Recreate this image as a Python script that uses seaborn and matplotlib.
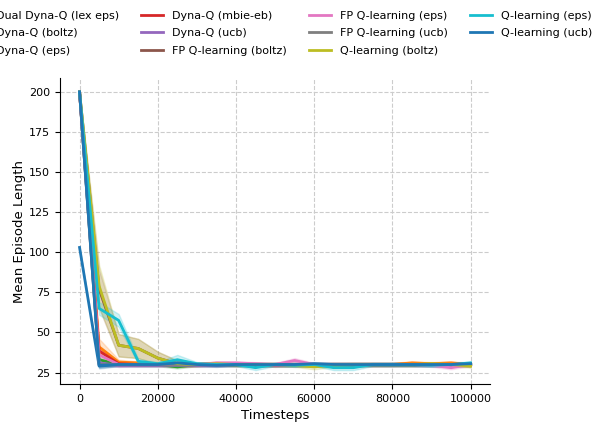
import numpy as np
import pandas as pd
import matplotlib
matplotlib.use("Agg")
import matplotlib.pyplot as plt
import seaborn as sns

timesteps = list(range(0, 100001, 5000))

labels = ["Dual Dyna-Q (lex eps)", "Dyna-Q (boltz)", "Dyna-Q (eps)", "Dyna-Q (mbie-eb)",
          "Dyna-Q (ucb)", "FP Q-learning (boltz)", "FP Q-learning (eps)", "FP Q-learning (ucb)",
          "Q-learning (boltz)", "Q-learning (eps)", "Q-learning (ucb)"]

# mean episode length per series
dual_lex_eps = [103, 29, 30, 30, 30, 30, 30, 30, 30, 29.5, 30, 30, 30, 30, 30, 30, 30, 30, 30, 30, 30]
dyna_boltz = [200, 41, 31.5, 31, 30.5, 30, 30, 30.5, 30, 30, 29.5, 30, 29.5, 30, 30, 30, 30, 31, 30.5, 31, 30]
dyna_eps = [200, 33, 30, 30, 30, 28.5, 30, 30, 30, 30, 30, 30, 30, 30, 30, 30, 30, 30, 30, 30, 30]
dyna_mbie = [200, 38.5, 30.5, 30, 30, 30, 30, 30, 30, 30, 30, 30, 30, 30, 30, 30, 30, 30, 30, 30, 30.5]
dyna_ucb = [200, 31, 29.5, 29.5, 29.5, 29.5, 29.5, 29.5, 30, 30, 29.5, 29.5, 30, 30, 30, 30, 30, 30, 30, 30, 30]
fp_boltz = [200, 77, 42, 40, 34, 30.5, 30, 30.5, 30, 30, 30, 30, 29.5, 30, 30, 30, 30, 30, 30, 30, 29.5]
fp_eps = [200, 36, 30, 30, 30, 30, 30, 31, 31, 30.5, 30, 32.5, 30, 30, 30, 30, 30, 30, 29.5, 28, 30]
fp_ucb = [200, 30, 30, 30, 30, 30, 30, 30, 30, 30, 30, 30, 30, 30, 30, 30, 30, 30, 30, 30, 30]
q_boltz = [200, 79, 42, 40, 34, 30.5, 30, 30.5, 30, 30, 30, 29.5, 28.5, 29.5, 30, 30, 30, 30, 30.5, 30, 29]
q_eps = [200, 65, 57.5, 32, 30.5, 33, 30.5, 30, 30, 28, 30, 29.5, 30, 28, 28, 30, 30, 30, 29.5, 30, 31]
q_ucb = [200, 29.5, 30, 30, 30, 31, 30, 29.5, 30, 30, 30, 30, 30.5, 30, 30, 30, 30, 30, 30, 30, 30.5]

# half width of the shaded band
band_small = [0, 1.5, 1, 1, 1, 1, 1, 1, 1, 1, 1, 1, 1, 1, 1, 1, 1, 1, 1, 1, 1]
band_orange = [0, 5, 1.5, 1, 1, 1, 1, 1, 1, 1, 1, 1, 1, 1, 1, 1, 1, 1, 1, 1, 1]
band_pink = [0, 4, 1.5, 1, 1, 1, 1, 1, 1, 1, 1, 1.5, 1, 1, 1, 1, 1, 1, 1, 1, 1]
band_brown = [0, 12, 7, 6, 4, 2, 1, 1, 1, 1, 1, 1, 1, 1, 1, 1, 1, 1, 1, 1, 1]
band_olive = [0, 13, 7, 6, 4, 2, 1, 1, 1, 1, 1, 1, 1.5, 1, 1, 1, 1, 1, 1, 1, 1]
band_cyan = [0, 4, 4, 1.5, 1, 3, 1, 1, 1, 1.5, 1, 1, 1, 1.5, 1.5, 1, 1, 1, 1, 1, 1]

means = [dual_lex_eps, dyna_boltz, dyna_eps, dyna_mbie, dyna_ucb, fp_boltz,
         fp_eps, fp_ucb, q_boltz, q_eps, q_ucb]
bands = [band_small, band_orange, band_small, band_small, band_small, band_brown,
         band_pink, band_small, band_olive, band_cyan, band_small]

rows = []
for lab, m, b in zip(labels, means, bands):
    for t, v, h in zip(timesteps, m, b):
        for s in (-1, 0, 1):
            rows.append({"Timesteps": t, "Mean Episode Length": v + s * h, "algo": lab})
df = pd.DataFrame(rows)

tab = sns.color_palette("tab10")
palette = dict(zip(labels, list(tab) + [tab[0]]))

fig = plt.figure(figsize=(6, 4.22), dpi=100)
ax = fig.add_axes([0.1, 0.09, 0.717, 0.725])
sns.lineplot(data=df, x="Timesteps", y="Mean Episode Length", hue="algo",
             hue_order=labels, palette=palette, estimator="mean",
             errorbar=("pi", 100), linewidth=2, ax=ax)
ax.grid(True, linestyle="--", color="#cccccc", linewidth=0.8)
ax.set_axisbelow(True)
sns.despine(ax=ax)
ax.tick_params(labelsize=8)
ax.set_xlabel("Timesteps", fontsize=9.5)
ax.set_ylabel("Mean Episode Length", fontsize=9.5, labelpad=2)
ax.set_yticks([25, 50, 75, 100, 125, 150, 175, 200])
ax.legend(loc="lower center", bbox_to_anchor=(0.508, 1.04), ncol=4,
          frameon=False, fontsize=8, labelspacing=0.68)
fig.savefig("out.png", dpi=100)
